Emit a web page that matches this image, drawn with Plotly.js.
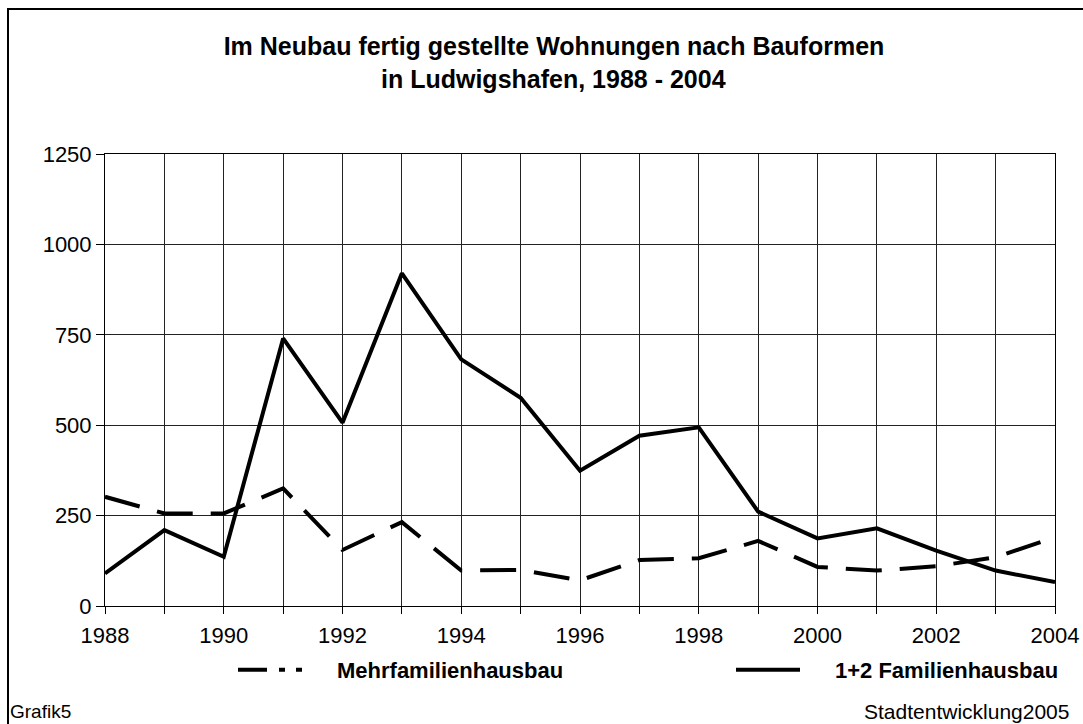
<!DOCTYPE html>
<html>
<head>
<meta charset="utf-8">
<script src="https://cdn.plot.ly/plotly-3.0.1.min.js"></script>
<style>html,body{margin:0;padding:0;background:#fff;}#chart{width:1083px;height:724px;}</style>
</head>
<body>
<div id="chart"></div>
<script>
var years = [1988,1989,1990,1991,1992,1993,1994,1995,1996,1997,1998,1999,2000,2001,2002,2003,2004];
var mehrfamilien = [302,256,256,325,155,232,98,100,71,127,132,180,108,98,110,135,190];
var familien12 = [90,210,136,740,507,920,682,576,374,471,494,261,187,215,153,98,66];
var yTicks = [0,250,500,750,1000,1250];
var xTicks = [1988,1990,1992,1994,1996,1998,2000,2002,2004];
var seriesNames = ['Mehrfamilienhausbau','1+2 Familienhausbau'];

var FONT = 'Liberation Sans, Arial, sans-serif';
var traces = [
  {x: years, y: mehrfamilien, type:'scatter', mode:'lines', name: seriesNames[0], showlegend:false,
   line:{color:'#000', width:4, dash:'36px,18px'}, hoverinfo:'x+y'},
  {x: years, y: familien12, type:'scatter', mode:'lines', name: seriesNames[1], showlegend:false,
   line:{color:'#000', width:4}, hoverinfo:'x+y'},
  {x: [years[0]], y: [null], type:'scatter', mode:'lines', name: seriesNames[0], showlegend:true, legend:'legend',
   line:{color:'#000', width:4, dash:'29px,12px,6px,11px,6px,60px'}},
  {x: [years[0]], y: [null], type:'scatter', mode:'lines', name: seriesNames[1], showlegend:true, legend:'legend2',
   line:{color:'#000', width:4, dash:'64px,60px'}}
];

var legendBase = {orientation:'h', xanchor:'left', y:1-(670-154)/452, yanchor:'middle',
  font:{family:FONT, size:22, color:'#000', weight:'bold'}, bgcolor:'rgba(0,0,0,0)', itemwidth:94};

var layout = {
  width:1083, height:724,
  paper_bgcolor:'#fff', plot_bgcolor:'#fff',
  margin:{l:105, r:28, t:154, b:118},
  font:{family:FONT, color:'#000', size:22},
  title:{text:'<b>Im Neubau fertig gestellte Wohnungen nach Bauformen</b>', font:{family:FONT, size:25, color:'#000'},
         x:554/1083, xanchor:'center', xref:'container', y:1-46/724, yref:'container', yanchor:'middle'},
  xaxis:{range:[1988,2004], tickvals:xTicks, ticktext:xTicks.map(String), showgrid:true, gridcolor:'#222', gridwidth:1,
         ticks:'outside', ticklen:7, tickcolor:'#000', showline:true, linecolor:'#000', linewidth:1, mirror:true,
         zeroline:false, tickfont:{size:22, family:FONT}, ticklabelstandoff:3,
         minor:{dtick:1, tick0:1988, showgrid:true, gridcolor:'#222', gridwidth:1, ticks:'outside', ticklen:7, tickcolor:'#000'}},
  yaxis:{range:[0,1250], tickvals:yTicks, ticktext:yTicks.map(String), showgrid:true, gridcolor:'#222', gridwidth:1,
         ticks:'outside', ticklen:8, tickcolor:'#000', showline:true, linecolor:'#000', linewidth:1, mirror:true,
         zeroline:false, tickfont:{size:22, family:FONT}},
  showlegend:true,
  legend: Object.assign({}, legendBase, {x:(233-105)/950}),
  legend2: Object.assign({}, legendBase, {x:(731-105)/950}),
  annotations:[
    {text:'<b>in Ludwigshafen, 1988 - 2004</b>', xref:'paper', x:(553-105)/950, yref:'paper', y:1+(154-79)/452,
     showarrow:false, xanchor:'center', yanchor:'middle', font:{family:FONT, size:25, color:'#000'}},
    {text:'Grafik5', xref:'paper', x:(8-105)/950, yref:'paper', y:1-(711-154)/452, showarrow:false,
     xanchor:'left', yanchor:'middle', font:{family:FONT, size:19, color:'#000'}},
    {text:'Stadtentwicklung2005', xref:'paper', x:(1071-105)/950, yref:'paper', y:1-(711-154)/452, showarrow:false,
     xanchor:'right', yanchor:'middle', font:{family:FONT, size:21, color:'#000'}}
  ],
  shapes:[
    {type:'rect', xref:'paper', yref:'paper', x0:(8-105)/950, x1:(1100-105)/950, y0:1-(740-154)/452, y1:1+(154-9)/452,
     line:{color:'#000', width:2}, fillcolor:'rgba(0,0,0,0)', layer:'below'}
  ]
};
Plotly.newPlot('chart', traces, layout, {displayModeBar:false, staticPlot:true});
</script>
</body>
</html>
